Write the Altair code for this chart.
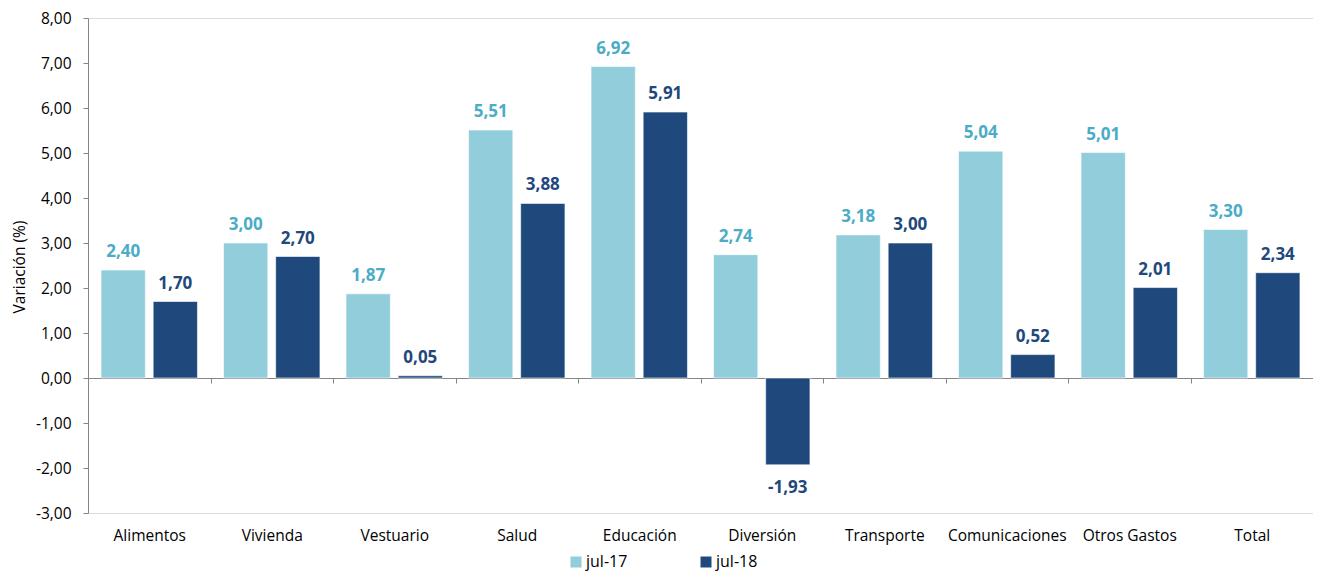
import altair as alt
import pandas as pd

categorias = ["Alimentos", "Vivienda", "Vestuario", "Salud", "Educación",
              "Diversión", "Transporte", "Comunicaciones", "Otros Gastos", "Total"]
jul17 = [2.40, 3.00, 1.87, 5.51, 6.92, 2.74, 3.18, 5.04, 5.01, 3.30]
jul18 = [1.70, 2.70, 0.05, 3.88, 5.91, -1.93, 3.00, 0.52, 2.01, 2.34]
series = ["jul-17", "jul-18"]
bar_colors = ["#92CDDC", "#1F497D"]
label_colors = ["#4BACC6", "#1F497D"]
y_ticks = list(range(-3, 9))

rows = []
for c, a, b in zip(categorias, jul17, jul18):
    for s, v in zip(series, (a, b)):
        rows.append({"cat": c, "serie": s, "v": v,
                     "lab": f"{v:.2f}".replace(".", ",")})
df = pd.DataFrame(rows)

W, H = 1225, 495
FONT = "Open Sans"
AXC = "#868686"
ZERO_OFF = -H * 3 / 11

x_enc = alt.X(
    "cat:N", sort=categorias,
    scale=alt.Scale(paddingInner=0, paddingOuter=0),
    axis=alt.Axis(title=None, orient="bottom", offset=ZERO_OFF, tickBand="extent",
                  tickSize=5, labelPadding=145, labelAngle=0,
                  domainColor=AXC, tickColor=AXC, labelFont=FONT,
                  labelFontSize=15.5, labelColor="#000000"),
)
xo_enc = alt.XOffset("serie:N", sort=series,
                     scale=alt.Scale(paddingInner=0.15, paddingOuter=0.25))
y_enc = alt.Y(
    "v:Q",
    scale=alt.Scale(domain=[-3, 8], nice=False, zero=False),
    axis=alt.Axis(values=y_ticks, title="Variación (%)", grid=False,
                  tickSize=5, labelPadding=12, domainColor=AXC, tickColor=AXC,
                  labelFont=FONT, labelFontSize=15.5, labelColor="#000000",
                  labelExpr="(datum.value < 0 ? '-' : '') + replace(format(abs(datum.value), '.2f'), '.', ',')",
                  titleFont=FONT, titleFontSize=15.5, titleFontWeight="normal",
                  titleColor="#000000", titleX=-61, titleY=H / 2 + 1),
)

base = alt.Chart(df)

bars = base.mark_bar(stroke="#ffffff", strokeWidth=0.6).encode(
    x=x_enc, xOffset=xo_enc, y=y_enc,
    color=alt.Color("serie:N", sort=series,
                    scale=alt.Scale(domain=series, range=bar_colors),
                    legend=alt.Legend(title=None, orient="none", legendX=480,
                                      legendY=536, direction="horizontal",
                                      symbolType="square", symbolSize=121,
                                      symbolStrokeWidth=0, labelFont=FONT,
                                      labelFontSize=16, labelColor="#000000",
                                      columnPadding=70, labelOffset=2)),
)

txt_color = alt.condition(alt.datum.serie == "jul-17",
                          alt.value(label_colors[0]), alt.value(label_colors[1]))

pos_txt = base.transform_filter(alt.datum.v >= 0).mark_text(
    baseline="alphabetic", dy=-13, font=FONT, fontSize=17, fontWeight="bold"
).encode(x=x_enc, xOffset=xo_enc, y=y_enc, text="lab:N", color=txt_color)

neg_txt = base.transform_filter(alt.datum.v < 0).mark_text(
    baseline="alphabetic", dy=28, font=FONT, fontSize=17, fontWeight="bold"
).encode(x=x_enc, xOffset=xo_enc, y=y_enc, text="lab:N", color=txt_color)

chart = alt.layer(bars, pos_txt, neg_txt).properties(
    width=W, height=H,
    autosize=alt.AutoSizeParams(type="none"),
    padding={"left": 80, "top": 10, "right": 0, "bottom": 59},
).configure_view(stroke=None).configure(background="#ffffff")

chart.save("out.html", embed_options={"renderer": "svg", "actions": False})
